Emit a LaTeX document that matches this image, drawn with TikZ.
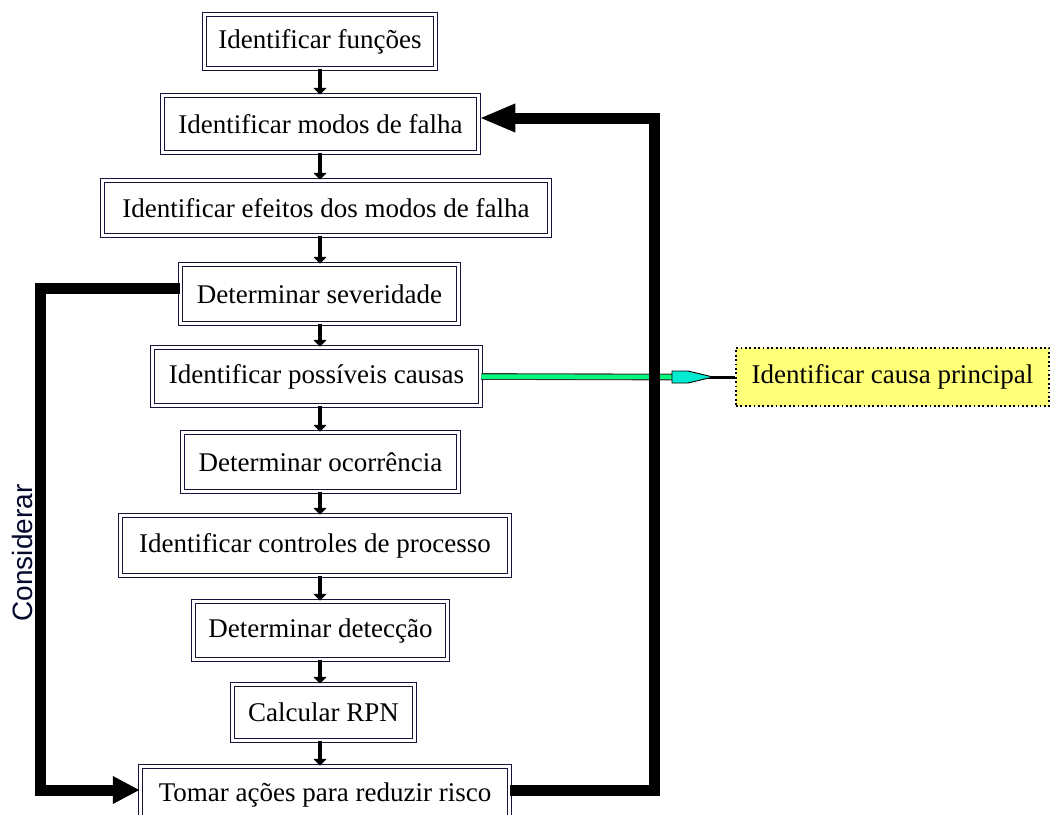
\documentclass[tikz,border=0pt]{standalone}
\usepackage{fontspec}
\setmainfont{Liberation Serif}
\newfontfamily\sansfnt{Liberation Sans}
\usetikzlibrary{arrows.meta}
\definecolor{boxline}{RGB}{20,20,60}
\definecolor{gline}{RGB}{0,250,125}
\definecolor{gtip}{RGB}{0,235,210}
\definecolor{yfill}{RGB}{255,255,120}
\definecolor{considc}{RGB}{5,10,45}
\begin{document}
\begin{tikzpicture}[x=1pt,y=-1pt,
  stepbox/.style={draw=boxline, double=white, double distance=2.5pt, line width=1.2pt,
    fill=white, inner sep=0pt, font=\fontsize{27}{30}\selectfont, text=black},
  flow/.style={line width=4pt, -{Triangle[length=7pt,width=13pt]}},
  loopline/.style={line width=11pt, line join=miter},
  notebox/.style={draw=black, fill=yfill, line width=2.2pt, dash pattern=on 1.8pt off 2.6pt,
    inner sep=0pt, font=\fontsize{27}{30}\selectfont, text=black},
]
\useasboundingbox (0,0) rectangle (1052,814);
\clip (0,0) rectangle (1052,814);

\node[stepbox, minimum width=231.3pt, minimum height=54.3pt] (b1) at (320,41.5) {Identificar funções};
\node[stepbox, minimum width=316.3pt, minimum height=57.3pt] (b2) at (320.5,124) {Identificar modos de falha};
\node[stepbox, minimum width=447.3pt, minimum height=55.3pt] (b3) at (326,208) {Identificar efeitos dos modos de falha};
\node[stepbox, minimum width=278.3pt, minimum height=59.3pt] (b4) at (319.5,294) {Determinar severidade};
\node[stepbox, minimum width=328.3pt, minimum height=58.3pt] (b5) at (316.5,376.5) {Identificar possíveis causas};
\node[stepbox, minimum width=276.3pt, minimum height=59.3pt] (b6) at (320.5,462) {Determinar ocorrência};
\node[stepbox, minimum width=389.3pt, minimum height=60.3pt] (b7) at (315,545.5) {Identificar controles de processo};
\node[stepbox, minimum width=254.3pt, minimum height=58.3pt] (b8) at (320.5,630.5) {Determinar detecção};
\node[stepbox, minimum width=182.3pt, minimum height=56.3pt] (b9) at (323.5,712.5) {Calcular RPN};
\node[stepbox, minimum width=369.3pt, minimum height=57.3pt] (b10) at (325,795) {Tomar ações para reduzir risco};

\node[notebox, minimum width=313pt, minimum height=58pt] (yl) at (892.5,377) {Identificar causa principal};

\node[rotate=90, font=\sansfnt\fontsize{28}{30}\selectfont, text=considc] (cons) at (22,553) {Considerar};

% main chain
\coordinate (sp) at (320,0);
\draw[flow] (b1.south -| sp) -- (b2.north -| sp);
\draw[flow] (b2.south -| sp) -- (b3.north -| sp);
\draw[flow] (b3.south -| sp) -- (b4.north -| sp);
\draw[flow] (b4.south -| sp) -- (b5.north -| sp);
\draw[flow] (b5.south -| sp) -- (b6.north -| sp);
\draw[flow] (b6.south -| sp) -- (b7.north -| sp);
\draw[flow] (b7.south -| sp) -- (b8.north -| sp);
\draw[flow] (b8.south -| sp) -- (b9.north -| sp);
\draw[flow] (b9.south -| sp) -- (b10.north -| sp);

% green connector to the note
\coordinate (g1) at (672,377);
\coordinate (g2) at (705,377);
\draw[draw=black!80, double=gline, double distance=4.5pt, line width=1.1pt] (b5.east) -- (g1);
\draw[line width=3pt] (g2) -- (yl.west);
\filldraw[fill=gtip, draw=black, line width=0.9pt]
  (672,371) -- (688,371) -- (713,377) -- (688,383) -- (672,383) -- cycle;

% feedback loops
\coordinate (L1) at (40,288);
\coordinate (L2) at (40,790);
\coordinate (R1) at (654,790);
\coordinate (R2) at (654,118);
\draw[loopline, -{Triangle[length=27pt,width=26pt]}] (b4.west |- L1) -- (L1) -- (L2) -- (b10.west |- L2);
\draw[loopline, -{Triangle[length=36pt,width=26pt]}] (b10.east |- R1) -- (R1) -- (R2) -- (b2.east |- R2);
\end{tikzpicture}
\end{document}
